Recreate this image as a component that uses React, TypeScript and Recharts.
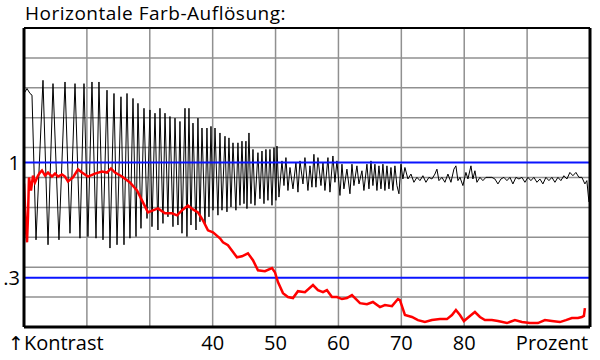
import React from 'react';
import { LineChart, Line, XAxis, YAxis, CartesianGrid, ReferenceLine } from 'recharts';

// [Prozent, Kontrast] – schwarz: Testmuster, rot: Farbauflösung
const helligkeit: Array<[number, number]> = [
  [10.0, 1.42], [10.48, 1.45], [10.95, 1.42], [11.27, 1.41], [11.91, 0.53], [13.02, 1.5], [13.82, 0.5],
  [14.61, 1.48], [15.56, 0.53], [16.52, 1.49], [17.31, 0.57], [18.11, 1.48], [18.9, 0.54], [19.54, 1.48],
  [20.17, 0.55], [20.81, 1.49], [21.45, 0.54], [21.92, 1.49], [22.56, 0.53], [23.2, 1.44], [23.67, 0.48],
  [24.31, 1.42], [24.79, 0.5], [25.42, 1.4], [25.9, 0.5], [26.38, 1.42], [26.85, 0.54], [27.33, 1.39],
  [27.81, 0.55], [28.12, 1.36], [28.6, 0.6], [29.08, 1.33], [29.56, 0.66], [30.03, 1.32], [30.35, 0.61],
  [30.83, 1.3], [31.3, 0.59], [31.62, 1.33], [32.1, 0.63], [32.42, 1.3], [32.89, 0.67], [33.21, 1.28],
  [33.69, 0.61], [34.01, 1.27], [34.48, 0.62], [34.8, 1.25], [35.12, 0.57], [35.6, 1.33], [35.91, 0.55],
  [36.23, 1.33], [36.55, 0.62], [36.87, 1.24], [37.35, 0.59], [37.66, 1.27], [37.98, 0.64], [38.3, 1.21],
  [38.78, 0.62], [39.09, 1.21], [39.41, 0.67], [39.73, 1.22], [40.05, 0.71], [40.37, 1.21], [40.84, 0.68],
  [41.16, 1.18], [41.48, 0.71], [41.96, 1.16], [42.27, 0.7], [42.59, 1.15], [42.91, 0.73], [43.23, 1.12],
  [43.7, 0.71], [44.02, 1.12], [44.34, 0.74], [44.66, 1.13], [44.98, 0.75], [45.29, 1.13], [45.45, 0.72],
  [45.77, 1.18], [46.09, 0.75], [46.41, 1.08], [46.72, 0.74], [47.2, 1.06], [47.52, 0.78], [47.84, 1.07],
  [48.16, 0.75], [48.47, 1.08], [48.79, 0.77], [49.11, 1.08], [49.43, 0.74], [49.75, 1.09], [50.06, 0.77],
  [50.22, 1.1], [50.54, 0.79], [51.02, 1.01], [51.34, 0.86], [51.65, 1.03], [51.97, 0.83], [52.29, 0.97],
  [52.77, 0.84], [53.24, 1.0], [53.56, 0.82], [53.88, 1.01], [54.36, 0.87], [54.67, 1.03], [55.15, 0.83],
  [55.47, 0.98], [55.79, 0.85], [56.1, 1.05], [56.42, 0.85], [56.74, 1.03], [57.22, 0.86], [57.54, 1.0],
  [57.85, 0.83], [58.33, 1.03], [58.65, 0.82], [59.12, 1.04], [59.44, 0.88], [59.76, 1.01], [60.24, 0.8],
  [60.56, 0.99], [60.87, 0.84], [61.35, 0.96], [61.83, 0.81], [62.15, 0.99], [62.46, 0.86], [62.94, 0.98],
  [63.26, 0.87], [63.74, 0.95], [64.05, 0.83], [64.53, 0.99], [64.85, 0.84], [65.17, 1.01], [65.48, 0.86],
  [65.8, 0.99], [66.12, 0.83], [66.44, 0.98], [66.76, 0.84], [67.07, 0.99], [67.39, 0.83], [67.71, 0.98],
  [68.03, 0.84], [68.35, 0.97], [68.66, 0.83], [68.98, 0.98], [69.3, 0.86], [69.62, 0.81], [69.94, 0.99],
  [70.25, 0.9], [70.57, 0.97], [71.05, 0.9], [71.53, 0.93], [72.0, 0.88], [72.48, 0.91], [72.96, 0.89],
  [73.43, 0.92], [73.91, 0.88], [74.39, 0.91], [74.86, 0.9], [75.34, 0.93], [75.66, 0.96], [75.98, 0.89],
  [76.45, 0.91], [76.93, 0.88], [77.41, 0.93], [77.89, 0.88], [78.36, 0.96], [78.68, 0.98], [79.0, 0.89],
  [79.32, 0.91], [79.79, 0.86], [80.27, 0.94], [80.59, 0.9], [81.07, 0.98], [81.38, 0.9], [81.7, 0.95],
  [82.02, 0.88], [82.5, 0.91], [82.97, 0.89], [83.45, 0.91], [83.93, 0.91], [84.4, 0.91], [84.88, 0.9],
  [85.36, 0.87], [85.84, 0.9], [86.31, 0.91], [86.79, 0.89], [87.27, 0.91], [87.74, 0.87], [88.22, 0.91],
  [88.7, 0.9], [89.17, 0.91], [89.65, 0.88], [90.13, 0.91], [90.6, 0.89], [91.08, 0.91], [91.56, 0.88],
  [92.04, 0.9], [92.51, 0.87], [92.99, 0.91], [93.47, 0.89], [93.94, 0.91], [94.42, 0.88], [94.9, 0.91],
  [95.37, 0.89], [95.85, 0.92], [96.33, 0.9], [96.8, 0.94], [97.28, 0.92], [97.76, 0.94], [98.24, 0.91],
  [98.71, 0.91], [99.19, 0.87], [99.5, 0.89], [99.83, 0.76],
];

const farbe: Array<[number, number]> = [
  [10.0, 0.873], [10.32, 0.588], [10.48, 0.515], [10.64, 0.679], [10.79, 0.909], [11.11, 0.83], [11.43, 0.921],
  [11.75, 0.879], [12.23, 0.921], [12.54, 0.939], [12.86, 0.952], [13.34, 0.921], [13.82, 0.939], [14.45, 0.915],
  [14.93, 0.933], [15.41, 0.915], [16.04, 0.927], [16.52, 0.915], [17.0, 0.885], [17.79, 0.909], [18.59, 0.958],
  [19.22, 0.939], [20.17, 0.915], [21.29, 0.933], [22.4, 0.945], [23.2, 0.939], [23.83, 0.964], [24.47, 0.939],
  [25.58, 0.915], [26.85, 0.879], [27.97, 0.83], [28.76, 0.77], [29.71, 0.697], [30.51, 0.709], [31.3, 0.721],
  [32.42, 0.691], [33.53, 0.691], [34.33, 0.679], [35.28, 0.715], [36.08, 0.739], [36.87, 0.715], [37.66, 0.697],
  [38.46, 0.648], [39.25, 0.588], [40.05, 0.576], [41.16, 0.539], [41.64, 0.515], [42.43, 0.497], [43.86, 0.424],
  [44.66, 0.43], [45.61, 0.448], [46.41, 0.406], [47.2, 0.345], [48.31, 0.339], [49.43, 0.358], [49.9, 0.333],
  [50.38, 0.273], [51.18, 0.206], [51.97, 0.182], [52.77, 0.176], [53.56, 0.218], [54.67, 0.212], [55.95, 0.255],
  [56.74, 0.224], [57.54, 0.212], [58.17, 0.224], [58.97, 0.182], [59.76, 0.182], [60.56, 0.17], [61.35, 0.176],
  [62.15, 0.194], [63.42, 0.145], [64.53, 0.139], [65.48, 0.152], [66.6, 0.121], [67.39, 0.133], [68.51, 0.127],
  [69.46, 0.17], [69.78, 0.164], [70.57, 0.073], [71.69, 0.061], [72.64, 0.042], [73.75, 0.03], [74.86, 0.042],
  [76.14, 0.048], [77.25, 0.048], [78.05, 0.073], [78.68, 0.103], [79.32, 0.073], [79.95, 0.036], [80.91, 0.067],
  [81.7, 0.091], [82.5, 0.061], [83.29, 0.042], [84.4, 0.042], [85.36, 0.036], [86.79, 0.024], [88.06, 0.042],
  [89.17, 0.03], [90.45, 0.024], [91.72, 0.024], [92.83, 0.042], [93.94, 0.036], [95.21, 0.03], [96.17, 0.042],
  [97.12, 0.055], [98.08, 0.055], [98.71, 0.061], [99.03, 0.067], [99.19, 0.115],
];

const xTicks = [10, 40, 50, 60, 70, 80, 90];
const yTicks = [0.3, 1];
const yMax = 20 / 11;
const xGrid = [20, 30, 40, 50, 60, 70, 80, 90];
const yGrid = [1, 2, 3, 4, 5, 6, 7, 8, 9].map((k) => (k * yMax) / 10);

const toRows = (pts: Array<[number, number]>) => pts.map(([p, v]) => ({ p, v }));

const FONT = '"Open Sans", sans-serif';

function XTick({ x, y, payload }: any) {
  const v = payload.value;
  if (v === 10) {
    return (
      <text x={x - 16} y={y + 23} textAnchor="start" fontSize={20} fontFamily={FONT} fill="#000">
        <tspan fontFamily='"DejaVu Sans", sans-serif' fontSize={19}>↑</tspan>
        <tspan>Kontrast</tspan>
      </text>
    );
  }
  if (v === 90) {
    return (
      <text x={x + 61} y={y + 23} textAnchor="end" fontSize={20} fontFamily={FONT} fill="#000">
        Prozent
      </text>
    );
  }
  return (
    <text x={x} y={y + 23} textAnchor="middle" fontSize={20} fontFamily={FONT} fill="#000">
      {v}
    </text>
  );
}

export default function App() {
  return (
    <div style={{ position: 'absolute', left: 0, top: 0, width: 600, height: 360, background: '#fff' }}>
      <div
        style={{
          position: 'absolute',
          left: 25,
          top: 0,
          fontFamily: FONT,
          fontSize: 19,
          letterSpacing: 0.5,
          lineHeight: '26px',
          color: '#000',
          whiteSpace: 'nowrap',
        }}
      >
        Horizontale Farb-Auflösung:
      </div>
      <LineChart width={600} height={360} margin={{ top: 28, right: 10, bottom: 0, left: 0 }}>
        <CartesianGrid
          stroke="#909090"
          strokeWidth={1.5}
          horizontalValues={yGrid}
          verticalValues={xGrid}
        />
        <XAxis
          dataKey="p"
          type="number"
          domain={[10, 100]}
          ticks={xTicks}
          tick={<XTick />}
          tickLine={false}
          axisLine={false}
          tickSize={0}
          tickMargin={0}
          height={33}
          allowDataOverflow
        />
        <YAxis
          type="number"
          domain={[0, yMax]}
          ticks={yTicks}
          tickFormatter={(v: number) => (v === 1 ? '1' : '.3')}
          tick={{ fontSize: 20, fontFamily: FONT, fill: '#000' }}
          tickLine={false}
          axisLine={false}
          tickSize={0}
          tickMargin={4}
          width={24}
          allowDataOverflow
        />
        <Line
          data={toRows(helligkeit)}
          dataKey="v"
          type="linear"
          stroke="#000"
          strokeWidth={1}
          dot={false}
          isAnimationActive={false}
        />
        <ReferenceLine y={1} stroke="#0a14ff" strokeWidth={2} />
        <ReferenceLine y={0.3} stroke="#0a14ff" strokeWidth={2} />
        <Line
          data={toRows(farbe)}
          dataKey="v"
          type="linear"
          stroke="#ff0000"
          strokeWidth={2.5}
          dot={false}
          isAnimationActive={false}
        />
        <ReferenceLine x={10} stroke="#000" strokeWidth={3} />
        <ReferenceLine x={100} stroke="#000" strokeWidth={3} />
        <ReferenceLine y={0} stroke="#000" strokeWidth={3} />
        <ReferenceLine y={yMax} stroke="#000" strokeWidth={2} />
      </LineChart>
    </div>
  );
}
